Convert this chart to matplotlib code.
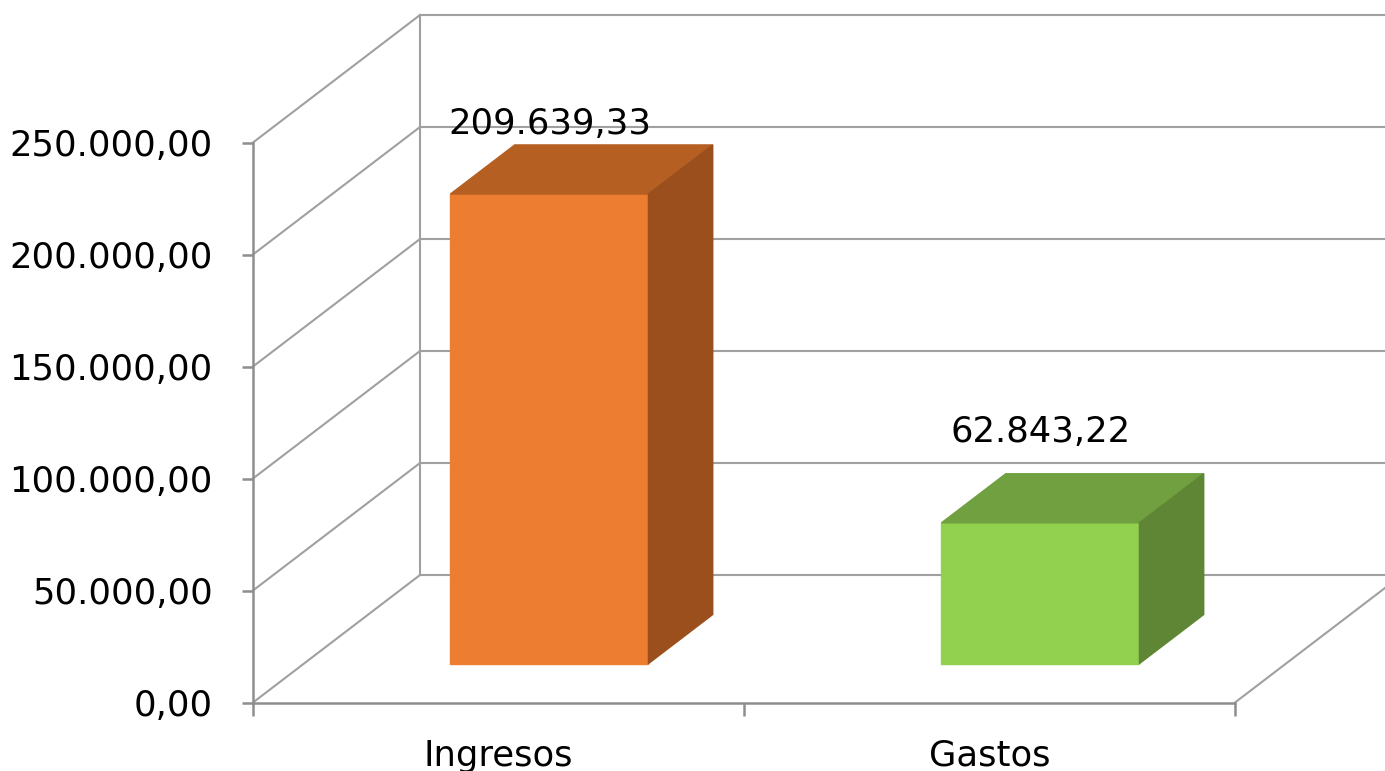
import matplotlib.pyplot as plt
import numpy as np

# datos
categorias = ["Ingresos", "Gastos"]
valores = [209639.33, 62843.22]
etiquetas = ["209.639,33", "62.843,22"]
ticks_y = [0, 50000, 100000, 150000, 200000, 250000]

colores_frente = ["#ED7D31", "#92D050"]
colores_techo = ["#B55F23", "#70A040"]
colores_lado = ["#9A4F1D", "#5E8634"]


def fmt_es(v):
    s = "{:,.2f}".format(v)
    return s.replace(",", "X").replace(".", ",").replace("X", ".")


fig = plt.figure(figsize=(13.85, 7.71), dpi=100)
ax = fig.add_axes([253 / 1385, (771 - 702.5) / 771, 982 / 1385, 560 / 771])
ax.set_xlim(-0.5, 1.5)
ax.set_ylim(0, 250000)
ax.patch.set_visible(False)

# vector de profundidad (pseudo 3D)
DX = 167 / 491
DY = 127.5 / 560 * 250000
gris = "#A0A0A0"

# pared del fondo y pared izquierda
for v in ticks_y:
    ax.plot([-0.5 + DX, 1.5 + DX], [v + DY, v + DY], color=gris, lw=1.5, clip_on=False, zorder=1)
    ax.plot([-0.5, -0.5 + DX], [v, v + DY], color=gris, lw=1.5, clip_on=False, zorder=1)
ax.plot([-0.5 + DX, -0.5 + DX], [DY, ticks_y[-1] + DY], color=gris, lw=1.5, clip_on=False, zorder=1)
ax.plot([1.5, 1.5 + DX], [0, DY], color=gris, lw=1.5, clip_on=False, zorder=1)

# barras
f0, f1 = 0.305, 0.69
ancho = 198 / 491
subida = [43, 58]
for i, v in enumerate(valores):
    x0 = i - ancho / 2 + f0 * DX
    x1 = x0 + ancho
    y0 = f0 * DY
    y1 = v + f0 * DY
    ddx = (f1 - f0) * DX
    ddy = (f1 - f0) * DY
    ax.fill([x0, x1, x1, x0], [y0, y0, y1, y1], color=colores_frente[i], zorder=3, clip_on=False)
    ax.fill([x0, x1, x1 + ddx, x0 + ddx], [y1, y1, y1 + ddy, y1 + ddy],
            color=colores_techo[i], zorder=3, clip_on=False)
    ax.fill([x1, x1 + ddx, x1 + ddx, x1], [y0, y0 + ddy, y1 + ddy, y1],
            color=colores_lado[i], zorder=3, clip_on=False)
    ax.annotate(etiquetas[i], xy=(i + f0 * DX, y1), xytext=(0, subida[i]),
                textcoords="offset points", ha="center", va="baseline",
                fontsize=25.5, color="black", zorder=4)

# ejes
for s in ["top", "right"]:
    ax.spines[s].set_visible(False)
for s in ["left", "bottom"]:
    ax.spines[s].set_color("#8E8E8E")
    ax.spines[s].set_linewidth(1.8)

ax.set_yticks(ticks_y)
ax.set_yticklabels([fmt_es(v) for v in ticks_y])
ax.set_xticks([-0.5, 0.5, 1.5])
ax.set_xticklabels([])
ax.set_xticks([0, 1], minor=True)
ax.set_xticklabels(categorias, minor=True)
ax.tick_params(axis="y", length=8, width=1.8, color="#8E8E8E", pad=21, labelsize=25.5)
ax.tick_params(axis="x", which="major", length=9, width=1.8, color="#8E8E8E")
ax.tick_params(axis="x", which="minor", length=0, pad=26, labelsize=25.5)

fig.savefig("out.png", dpi=100)
